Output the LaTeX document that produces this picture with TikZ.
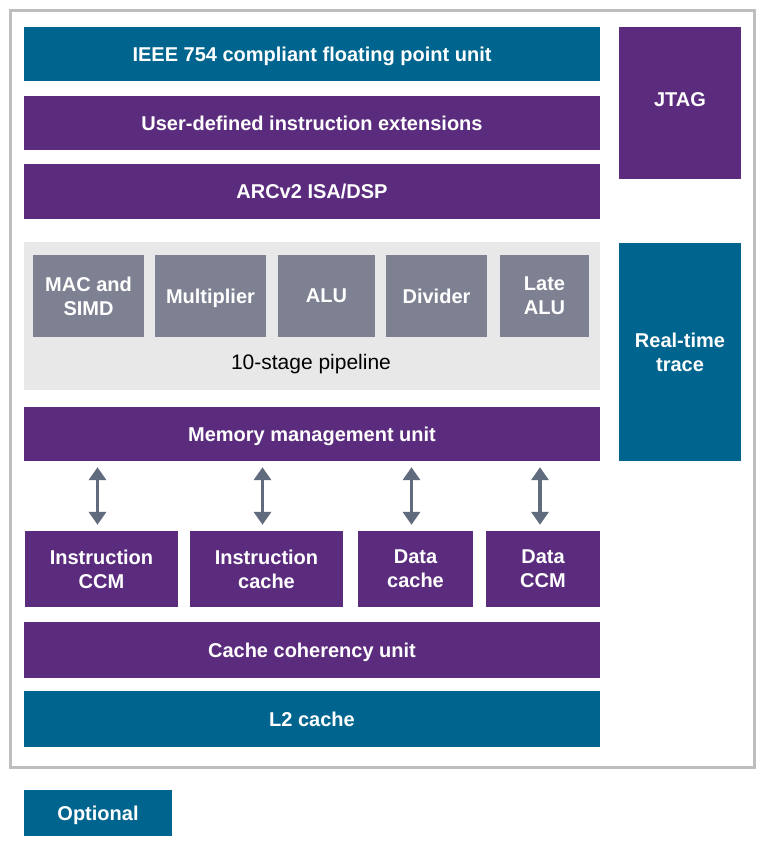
\documentclass[tikz,border=0pt]{standalone}
\usepackage{fontspec}
\setmainfont{Liberation Sans}
\usetikzlibrary{arrows.meta}
\definecolor{tealc}{RGB}{0,101,142}
\definecolor{purpc}{RGB}{91,44,126}
\definecolor{grayb}{RGB}{125,129,146}
\definecolor{pipebg}{RGB}{232,232,232}
\definecolor{framec}{RGB}{190,190,190}
\definecolor{arrc}{RGB}{96,108,126}
\tikzset{
  blk/.style={draw=none, text=white, font=\fontsize{20}{24}\selectfont\bfseries, align=center, inner sep=0pt, text depth=0pt},
  tealblk/.style={blk, fill=tealc},
  purpblk/.style={blk, fill=purpc},
  grayblk/.style={blk, fill=grayb},
  arr/.style={draw=arrc, line width=3.5pt, {Triangle[width=17pt,length=13pt]}-{Triangle[width=17pt,length=13pt]}, shorten >=6pt, shorten <=6pt}
}
\begin{document}
\begin{tikzpicture}[x=1pt,y=-1pt]
\useasboundingbox (0,0) rectangle (766,847);
\fill[white] (0,0) rectangle (766,847);
\draw[framec, line width=3pt] (10,10) rectangle (754,767);
% top rows
\node[tealblk, minimum width=576pt, minimum height=54pt] (fpu) at (312,54) {IEEE 754 compliant floating point unit};
\node[purpblk, minimum width=576pt, minimum height=54pt] (ude) at (312,123) {User-defined instruction extensions};
\node[purpblk, minimum width=576pt, minimum height=55pt] (isa) at (312,191.5) {ARCv2 ISA/DSP};
% right column
\node[purpblk, minimum width=122pt, minimum height=152pt, text depth=6pt] (jtag) at (680,103) {JTAG};
\node[tealblk, minimum width=122pt, minimum height=218pt] (rtt) at (680,352) {Real-time\\trace};
% pipeline
\node[fill=pipebg, minimum width=576pt, minimum height=148pt, inner sep=0pt] (pipe) at (312,316) {};
\node[font=\fontsize{21}{24}\selectfont, text=black, inner sep=0pt, text depth=0pt] (pipelbl) at (311,362) {10-stage pipeline};
\node[grayblk, minimum width=111pt, minimum height=82pt] (mac) at (88.5,296) {MAC and\\SIMD};
\node[grayblk, minimum width=111pt, minimum height=82pt] (mul) at (210.5,296) {Multiplier};
\node[grayblk, minimum width=97pt, minimum height=82pt] (alu) at (326.5,296) {ALU};
\node[grayblk, minimum width=101pt, minimum height=82pt] (div) at (436.5,296) {Divider};
\node[grayblk, minimum width=89pt, minimum height=82pt] (lalu) at (544.5,296) {Late\\ALU};
% memory
\node[purpblk, minimum width=576pt, minimum height=54pt] (mmu) at (312,434) {Memory management unit};
\node[purpblk, minimum width=153pt, minimum height=76pt] (iccm) at (101.5,569) {Instruction\\CCM};
\node[purpblk, minimum width=153pt, minimum height=76pt] (icache) at (266.5,569) {Instruction\\cache};
\node[purpblk, minimum width=115pt, minimum height=76pt] (dcache) at (415.5,569) {Data\\cache};
\node[purpblk, minimum width=114pt, minimum height=76pt] (dccm) at (543,569) {Data\\CCM};
\node[purpblk, minimum width=576pt, minimum height=56pt] (ccu) at (312,650) {Cache coherency unit};
\node[tealblk, minimum width=576pt, minimum height=56pt] (l2) at (312,719) {L2 cache};
% arrows
\draw[arr] ([xshift=-4pt]iccm.north |- mmu.south) -- ([xshift=-4pt]iccm.north);
\draw[arr] ([xshift=-4pt]icache.north |- mmu.south) -- ([xshift=-4pt]icache.north);
\draw[arr] ([xshift=-4pt]dcache.north |- mmu.south) -- ([xshift=-4pt]dcache.north);
\draw[arr] ([xshift=-3pt]dccm.north |- mmu.south) -- ([xshift=-3pt]dccm.north);
% legend
\node[tealblk, minimum width=148pt, minimum height=46pt] (opt) at (98,813) {Optional};
\end{tikzpicture}
\end{document}
